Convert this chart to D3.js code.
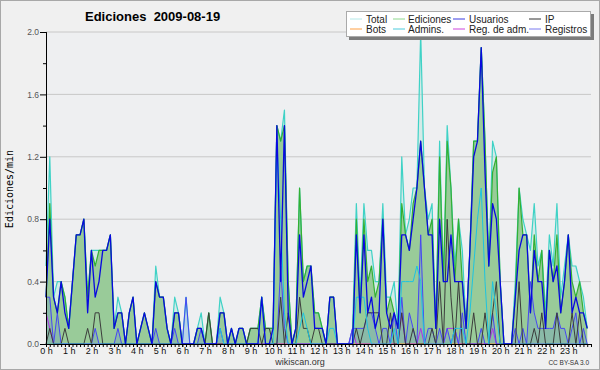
<!DOCTYPE html>
<html>
<head>
<meta charset="utf-8">
<script src="https://cdn.jsdelivr.net/npm/d3@7"></script>
<style>
  html, body { margin: 0; padding: 0; background: #fff; }
  svg { display: block; }
</style>
</head>
<body>
<svg id="chart" width="600" height="370"></svg>
<script>
const TITLE = 'Ediciones  2009-08-19'
const Y_LABEL = 'Ediciones/min'
const HOURS = ['0 h', '1 h', '2 h', '3 h', '4 h', '5 h', '6 h', '7 h', '8 h', '9 h', '10 h', '11 h',
  '12 h', '13 h', '14 h', '15 h', '16 h', '17 h', '18 h', '19 h', '20 h', '21 h', '22 h', '23 h']
const Y_TICKS = [0, 0.4, 0.8, 1.2, 1.6, 2.0]
const Y_MINOR = [0.2, 0.6, 1.0, 1.4, 1.8]

// one value per 10 minutes, in edits per minute (6 values per row = 1 hour)
const total = [
  0.5, 1.2, 0.3, 0.4, 0.4, 0.3,
  0.1, 0.4, 0.7, 0.7, 0.8, 0.3,
  0.6, 0.6, 0.6, 0.6, 0.6, 0.7,
  0.1, 0.3, 0.2, 0.0, 0.2, 0.3,
  0.0, 0.1, 0.2, 0.1, 0.0, 0.5,
  0.3, 0.3, 0.1, 0.0, 0.3, 0.2,
  0.0, 0.3, 0.0, 0.0, 0.1, 0.2,
  0.0, 0.2, 0.0, 0.0, 0.3, 0.2,
  0.0, 0.1, 0.0, 0.1, 0.1, 0.0,
  0.1, 0.1, 0.1, 0.3, 0.1, 0.1,
  0.1, 1.4, 1.3, 1.5, 0.4, 0.0,
  0.1, 1.0, 0.4, 0.5, 0.5, 0.2,
  0.2, 0.1, 0.0, 0.3, 0.3, 0.0,
  0.0, 0.0, 0.0, 0.1, 0.9, 0.3,
  0.9, 0.6, 0.6, 0.4, 0.4, 0.9,
  0.3, 0.3, 0.4, 0.1, 1.2, 0.7,
  0.8, 1.0, 1.0, 2.0, 1.0, 0.8,
  0.9, 0.1, 1.3, 0.4, 1.4, 1.0,
  0.5, 0.8, 0.6, 0.1, 0.6, 1.3,
  1.3, 1.9, 1.3, 0.5, 1.3, 1.2,
  0.4, 0.0, 0.0, 0.0, 0.4, 1.0,
  0.8, 0.7, 0.6, 0.9, 0.5, 0.6,
  0.2, 0.7, 0.5, 0.9, 0.3, 0.5,
  0.7, 0.5, 0.5, 0.4, 0.3, 0.1
]
const ediciones = [
  0.3, 0.9, 0.3, 0.2, 0.4, 0.3,
  0.1, 0.4, 0.7, 0.7, 0.8, 0.3,
  0.6, 0.5, 0.6, 0.6, 0.6, 0.7,
  0.1, 0.2, 0.2, 0.0, 0.2, 0.3,
  0.0, 0.1, 0.2, 0.1, 0.0, 0.4,
  0.3, 0.3, 0.1, 0.0, 0.2, 0.2,
  0.0, 0.0, 0.0, 0.0, 0.1, 0.1,
  0.0, 0.2, 0.0, 0.0, 0.2, 0.2,
  0.0, 0.1, 0.0, 0.1, 0.1, 0.0,
  0.1, 0.1, 0.1, 0.3, 0.1, 0.1,
  0.1, 1.4, 1.3, 1.4, 0.4, 0.0,
  0.1, 1.0, 0.4, 0.5, 0.5, 0.2,
  0.2, 0.1, 0.0, 0.3, 0.3, 0.0,
  0.0, 0.0, 0.0, 0.0, 0.8, 0.2,
  0.8, 0.4, 0.5, 0.3, 0.4, 0.8,
  0.2, 0.3, 0.2, 0.1, 0.9, 0.7,
  0.6, 0.9, 1.0, 1.3, 1.0, 0.7,
  0.8, 0.1, 1.2, 0.4, 1.3, 1.0,
  0.4, 0.8, 0.4, 0.1, 0.6, 1.3,
  1.3, 1.9, 1.3, 0.5, 1.1, 1.2,
  0.4, 0.0, 0.0, 0.0, 0.3, 1.0,
  0.7, 0.7, 0.2, 0.7, 0.4, 0.6,
  0.1, 0.6, 0.4, 0.7, 0.2, 0.4,
  0.7, 0.4, 0.3, 0.4, 0.2, 0.1
]
const usuarios = [
  0.3, 0.8, 0.3, 0.2, 0.4, 0.2,
  0.1, 0.4, 0.7, 0.7, 0.8, 0.2,
  0.6, 0.3, 0.4, 0.6, 0.6, 0.7,
  0.1, 0.2, 0.2, 0.0, 0.2, 0.3,
  0.0, 0.1, 0.2, 0.1, 0.0, 0.4,
  0.3, 0.3, 0.1, 0.0, 0.2, 0.2,
  0.0, 0.0, 0.0, 0.0, 0.1, 0.1,
  0.0, 0.0, 0.0, 0.0, 0.2, 0.2,
  0.0, 0.1, 0.0, 0.1, 0.1, 0.0,
  0.0, 0.0, 0.0, 0.3, 0.0, 0.0,
  0.1, 1.4, 0.4, 1.4, 0.2, 0.0,
  0.1, 0.7, 0.3, 0.4, 0.5, 0.1,
  0.1, 0.1, 0.0, 0.3, 0.3, 0.0,
  0.0, 0.0, 0.0, 0.0, 0.7, 0.2,
  0.7, 0.2, 0.3, 0.1, 0.2, 0.8,
  0.2, 0.1, 0.2, 0.1, 0.7, 0.7,
  0.6, 0.8, 1.0, 1.3, 1.0, 0.7,
  0.7, 0.1, 0.8, 0.4, 0.4, 0.7,
  0.4, 0.4, 0.4, 0.1, 0.6, 1.2,
  1.3, 1.9, 1.1, 0.5, 0.9, 0.8,
  0.4, 0.0, 0.0, 0.0, 0.3, 0.6,
  0.7, 0.7, 0.2, 0.6, 0.4, 0.4,
  0.1, 0.6, 0.4, 0.5, 0.2, 0.4,
  0.7, 0.2, 0.3, 0.2, 0.2, 0.1
]
const ip = [
  0.0, 0.1, 0.0, 0.0, 0.0, 0.1,
  0.0, 0.0, 0.0, 0.0, 0.0, 0.1,
  0.0, 0.2, 0.2, 0.0, 0.0, 0.0,
  0.0, 0.0, 0.0, 0.0, 0.0, 0.0,
  0.0, 0.0, 0.0, 0.0, 0.0, 0.0,
  0.0, 0.0, 0.0, 0.0, 0.0, 0.0,
  0.0, 0.0, 0.0, 0.0, 0.0, 0.0,
  0.0, 0.2, 0.0, 0.0, 0.0, 0.0,
  0.0, 0.0, 0.0, 0.0, 0.0, 0.0,
  0.1, 0.1, 0.1, 0.0, 0.1, 0.1,
  0.0, 0.0, 0.3, 0.0, 0.2, 0.0,
  0.0, 0.3, 0.1, 0.1, 0.0, 0.1,
  0.1, 0.0, 0.0, 0.0, 0.0, 0.0,
  0.0, 0.0, 0.0, 0.0, 0.1, 0.0,
  0.1, 0.2, 0.2, 0.2, 0.2, 0.0,
  0.0, 0.2, 0.0, 0.0, 0.2, 0.0,
  0.0, 0.1, 0.0, 0.0, 0.0, 0.0,
  0.1, 0.0, 0.4, 0.0, 0.8, 0.3,
  0.0, 0.4, 0.0, 0.0, 0.0, 0.2,
  0.0, 0.0, 0.2, 0.0, 0.2, 0.4,
  0.0, 0.0, 0.0, 0.0, 0.0, 0.4,
  0.0, 0.0, 0.0, 0.1, 0.0, 0.2,
  0.0, 0.0, 0.0, 0.2, 0.0, 0.0,
  0.0, 0.2, 0.0, 0.2, 0.0, 0.0
]
const bots = [
  0, 0, 0, 0, 0, 0,  0, 0, 0, 0, 0, 0,  0, 0, 0, 0, 0, 0,  0, 0, 0, 0, 0, 0,
  0, 0, 0, 0, 0, 0,  0, 0, 0, 0, 0, 0,  0, 0, 0, 0, 0, 0,  0, 0, 0, 0, 0, 0,
  0, 0, 0, 0, 0, 0,  0, 0, 0, 0, 0, 0,  0, 0, 0, 0, 0, 0,  0, 0, 0, 0, 0, 0,
  0, 0, 0, 0, 0, 0,  0, 0, 0, 0, 0, 0,  0, 0, 0, 0, 0, 0,  0, 0, 0, 0, 0, 0,
  0, 0, 0, 0, 0, 0,  0, 0, 0, 0, 0, 0,  0, 0, 0, 0, 0, 0,  0, 0, 0, 0, 0, 0,
  0, 0, 0, 0, 0, 0,  0, 0, 0, 0, 0, 0,  0, 0, 0, 0, 0, 0,  0, 0, 0, 0, 0, 0
]
const admins = [
  0.0, 0.0, 0.0, 0.0, 0.0, 0.0,
  0.0, 0.0, 0.0, 0.0, 0.0, 0.0,
  0.0, 0.0, 0.0, 0.0, 0.0, 0.0,
  0.0, 0.0, 0.0, 0.0, 0.0, 0.0,
  0.0, 0.0, 0.0, 0.0, 0.0, 0.0,
  0.0, 0.0, 0.0, 0.0, 0.0, 0.0,
  0.0, 0.0, 0.0, 0.0, 0.0, 0.0,
  0.0, 0.0, 0.0, 0.0, 0.1, 0.0,
  0.0, 0.0, 0.0, 0.0, 0.0, 0.0,
  0.0, 0.0, 0.0, 0.3, 0.0, 0.0,
  0.0, 1.3, 0.8, 0.2, 0.0, 0.0,
  0.0, 0.1, 0.2, 0.1, 0.0, 0.0,
  0.0, 0.0, 0.0, 0.1, 0.1, 0.0,
  0.0, 0.0, 0.0, 0.0, 0.3, 0.3,
  0.3, 0.1, 0.0, 0.0, 0.0, 0.0,
  0.0, 0.0, 0.1, 0.0, 0.4, 0.4,
  0.4, 0.4, 0.5, 0.4, 0.0, 0.0,
  0.0, 0.0, 0.0, 0.0, 0.0, 0.0,
  0.1, 0.1, 0.1, 0.0, 0.2, 0.5,
  0.8, 1.0, 0.4, 0.0, 0.4, 0.2,
  0.0, 0.0, 0.0, 0.0, 0.0, 0.0,
  0.0, 0.0, 0.0, 0.0, 0.0, 0.0,
  0.0, 0.0, 0.0, 0.0, 0.0, 0.0,
  0.0, 0.0, 0.0, 0.0, 0.0, 0.0
]
const regAdm = [
  0.2, 0.1, 0.0, 0.0, 0.0, 0.0,
  0.0, 0.0, 0.0, 0.0, 0.0, 0.0,
  0.0, 0.0, 0.0, 0.0, 0.0, 0.0,
  0.0, 0.0, 0.0, 0.0, 0.0, 0.0,
  0.0, 0.0, 0.0, 0.0, 0.0, 0.0,
  0.0, 0.0, 0.0, 0.0, 0.0, 0.0,
  0.0, 0.0, 0.0, 0.0, 0.0, 0.0,
  0.0, 0.0, 0.0, 0.0, 0.0, 0.0,
  0.0, 0.0, 0.0, 0.0, 0.0, 0.0,
  0.0, 0.0, 0.0, 0.0, 0.0, 0.0,
  0.0, 0.0, 0.0, 0.0, 0.0, 0.0,
  0.0, 0.0, 0.0, 0.0, 0.0, 0.0,
  0.0, 0.0, 0.0, 0.0, 0.0, 0.0,
  0.0, 0.0, 0.0, 0.1, 0.0, 0.0,
  0.0, 0.0, 0.0, 0.0, 0.0, 0.0,
  0.0, 0.0, 0.0, 0.0, 0.2, 0.0,
  0.0, 0.0, 0.0, 0.1, 0.0, 0.0,
  0.0, 0.0, 0.0, 0.0, 0.1, 0.1,
  0.1, 0.0, 0.0, 0.0, 0.0, 0.0,
  0.0, 0.0, 0.0, 0.0, 0.1, 0.0,
  0.0, 0.0, 0.0, 0.0, 0.0, 0.0,
  0.0, 0.0, 0.0, 0.0, 0.0, 0.0,
  0.0, 0.0, 0.0, 0.0, 0.0, 0.0,
  0.0, 0.0, 0.0, 0.0, 0.0, 0.0
]
const registros = [
  0.3, 0.3, 0.0, 0.2, 0.0, 0.0,
  0.0, 0.0, 0.0, 0.0, 0.0, 0.0,
  0.0, 0.1, 0.0, 0.0, 0.0, 0.0,
  0.0, 0.1, 0.0, 0.0, 0.0, 0.0,
  0.0, 0.0, 0.0, 0.0, 0.0, 0.1,
  0.0, 0.0, 0.0, 0.0, 0.1, 0.0,
  0.0, 0.3, 0.0, 0.0, 0.0, 0.1,
  0.0, 0.0, 0.0, 0.0, 0.1, 0.0,
  0.0, 0.0, 0.0, 0.0, 0.0, 0.0,
  0.0, 0.0, 0.0, 0.0, 0.0, 0.0,
  0.0, 0.0, 0.5, 0.1, 0.0, 0.0,
  0.0, 0.0, 0.0, 0.0, 0.0, 0.0,
  0.0, 0.0, 0.0, 0.0, 0.0, 0.0,
  0.0, 0.0, 0.0, 0.1, 0.1, 0.1,
  0.1, 0.2, 0.2, 0.1, 0.0, 0.1,
  0.1, 0.0, 0.2, 0.0, 0.3, 0.0,
  0.2, 0.1, 0.0, 0.7, 0.0, 0.1,
  0.1, 0.0, 0.1, 0.0, 0.1, 0.0,
  0.1, 0.0, 0.2, 0.0, 0.0, 0.0,
  0.0, 0.1, 0.0, 0.0, 0.2, 0.0,
  0.0, 0.0, 0.0, 0.0, 0.1, 0.0,
  0.1, 0.0, 0.4, 0.2, 0.1, 0.1,
  0.1, 0.1, 0.1, 0.2, 0.1, 0.1,
  0.0, 0.1, 0.2, 0.0, 0.1, 0.0
]

const LEGEND = ['Total', 'Ediciones', 'Usuarios', 'IP', 'Bots', 'Admins.', 'Reg. de adm.', 'Registros']
const LEGEND_COLORS = ['#b4e8e8', '#8ed88e', '#3a3ae0', '#333333', '#ffa044', '#4ccbdc', '#cc44dd', '#7a7af0']

class EditsChart {
  constructor(option) {
    const { el, width, height } = option || {}
    this.svg = d3.select(el)
    this.width = width || 600
    this.height = height || 370
    this.left = 46
    this.right = 591
    this.top = 32
    this.bottom = 344
  }

  init() {
    this.x = d3.scaleLinear().domain([0, usuarios.length]).range([this.left, this.right])
    this.y = d3.scaleLinear().domain([0, 2]).range([this.bottom, this.top])
    this.drawFrame()
    this.drawAreas()
    this.drawLines()
    this.drawAxes()
    this.drawTexts()
    this.drawLegend()
  }

  drawFrame() {
    this.svg.append('rect')
      .attr('x', 0.5).attr('y', 0.5)
      .attr('width', this.width - 1).attr('height', this.height - 1)
      .attr('fill', '#f0f0f0').attr('stroke', '#a8a8a8')
    this.svg.append('rect')
      .attr('x', this.left).attr('y', this.top)
      .attr('width', this.right - this.left).attr('height', this.bottom - this.top)
      .attr('fill', '#eeeff1')
    this.svg.append('g').selectAll('line')
      .data(Y_TICKS.slice(1))
      .join('line')
      .attr('x1', this.left).attr('x2', this.right)
      .attr('y1', d => this.y(d)).attr('y2', d => this.y(d))
      .attr('stroke', '#c8c8c8')
  }

  area() {
    return d3.area()
      .x((d, i) => this.x(i))
      .y0(this.y(0))
      .y1(d => this.y(d))
  }

  line() {
    return d3.line()
      .x((d, i) => this.x(i))
      .y(d => this.y(d))
  }

  drawAreas() {
    const g = this.svg.append('g')
    g.append('path').attr('d', this.area()(total)).attr('fill', '#bfe6e0').attr('fill-opacity', 0.55)
    g.append('path').attr('d', this.area()(ediciones)).attr('fill', '#99cb99')
    g.append('path').attr('d', this.area()(registros)).attr('fill', '#5078e6').attr('fill-opacity', 0.2)
  }

  drawLines() {
    const g = this.svg.append('g').attr('fill', 'none').attr('stroke-linejoin', 'round')
    const series = [
      [total, '#3fd2c6', 1.2],
      [ediciones, '#33b033', 1.2],
      [bots, '#ff9933', 1],
      [regAdm, '#b030e8', 1],
      [registros, '#4646f4', 1],
      [ip, '#3c3c3c', 1],
      [admins, '#1ec4e0', 1],
      [usuarios, '#0808e0', 1.3]
    ]
    series.forEach(([values, color, width]) => {
      g.append('path')
        .attr('d', this.line()(values))
        .attr('stroke', color)
        .attr('stroke-width', width)
    })
  }

  drawAxes() {
    const yMinor = d3.axisLeft(this.y).tickValues(Y_MINOR).tickSize(3).tickFormat('')
    const yMajor = d3.axisLeft(this.y).tickValues(Y_TICKS).tickSize(6).tickPadding(1)
      .tickFormat(d3.format('.1f'))
    const xMinor = d3.axisBottom(this.x).tickValues(d3.range(0, usuarios.length + 1)).tickSize(3).tickFormat('')
    const xHours = d3.axisBottom(this.x).tickValues(HOURS.map((h, i) => i * 6)).tickSize(3).tickPadding(1)
      .tickFormat((d, i) => HOURS[i])

    const gy = this.svg.append('g').attr('transform', `translate(${this.left},0)`)
    gy.call(yMinor)
    gy.append('g').call(yMajor)
    gy.selectAll('text').attr('font-family', 'Liberation Sans, Arial, sans-serif')
      .attr('font-size', 8.5).attr('fill', '#555')

    const gx = this.svg.append('g').attr('transform', `translate(0,${this.bottom})`)
    gx.call(xMinor)
    gx.append('g').call(xHours)
    gx.selectAll('text').attr('font-family', 'Liberation Sans, Arial, sans-serif')
      .attr('font-size', 9).attr('fill', '#111')
    this.svg.selectAll('.domain').attr('stroke', '#000')
  }

  drawTexts() {
    this.svg.append('text')
      .attr('x', 85).attr('y', 21)
      .attr('font-family', 'Liberation Sans, Arial, sans-serif')
      .attr('font-weight', 'bold').attr('font-size', 13)
      .attr('xml:space', 'preserve')
      .style('white-space', 'pre')
      .text(TITLE)
    this.svg.append('text')
      .attr('transform', 'translate(13,189) rotate(-90)')
      .attr('text-anchor', 'middle')
      .attr('font-family', 'DejaVu Sans Mono, monospace')
      .attr('font-size', 10)
      .text(Y_LABEL)
    this.svg.append('text')
      .attr('x', 300).attr('y', 365)
      .attr('text-anchor', 'middle')
      .attr('font-family', 'Liberation Sans, Arial, sans-serif')
      .attr('font-size', 9).attr('fill', '#333')
      .text('wikiscan.org')
    this.svg.append('text')
      .attr('x', 589).attr('y', 365)
      .attr('text-anchor', 'end')
      .attr('font-family', 'Liberation Sans, Arial, sans-serif')
      .attr('font-size', 6.5).attr('fill', '#333')
      .text('CC BY-SA 3.0')
  }

  drawLegend() {
    const g = this.svg.append('g')
    g.append('rect').attr('x', 349).attr('y', 14).attr('width', 245).attr('height', 26).attr('fill', '#7c7c7c')
    g.append('rect').attr('x', 346.5).attr('y', 11.5).attr('width', 244).attr('height', 25)
      .attr('fill', '#fff').attr('stroke', '#aaa')
    const colLine = [350, 393, 453, 529]
    const colText = [366, 408, 469, 545]
    LEGEND.forEach((name, i) => {
      const col = i % 4
      const row = Math.floor(i / 4)
      const cy = 19 + row * 10
      g.append('line')
        .attr('x1', colLine[col]).attr('x2', colLine[col] + 12)
        .attr('y1', cy).attr('y2', cy)
        .attr('stroke', LEGEND_COLORS[i])
      g.append('text')
        .attr('x', colText[col]).attr('y', cy + 3.5)
        .attr('font-family', 'Liberation Sans, Arial, sans-serif')
        .attr('font-size', 10).attr('fill', '#222')
        .text(name)
    })
  }
}

new EditsChart({ el: '#chart', width: 600, height: 370 }).init()
</script>
</body>
</html>
